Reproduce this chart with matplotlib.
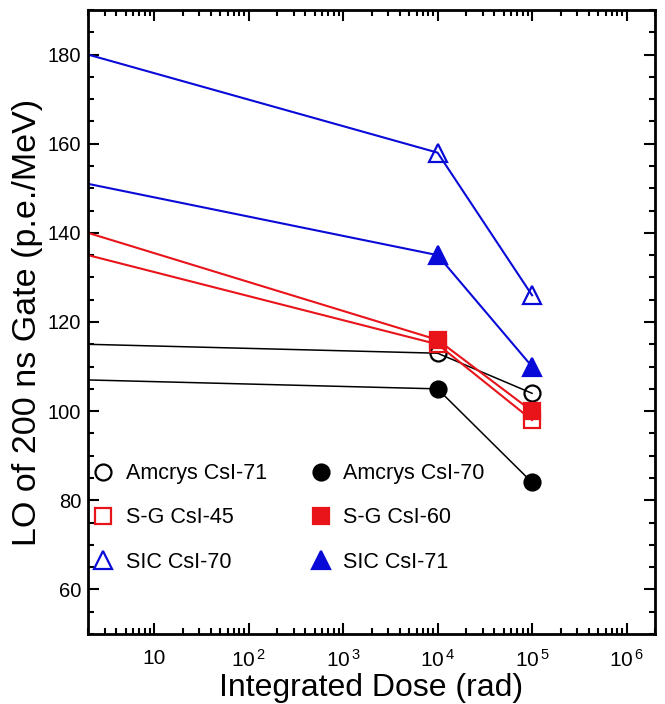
import math
import matplotlib
matplotlib.use('Agg')
import matplotlib.pyplot as plt
from matplotlib.lines import Line2D
from matplotlib.ticker import FixedLocator, LogLocator, MultipleLocator, FuncFormatter, NullFormatter

plt.rcParams['font.family'] = ['Liberation Sans', 'DejaVu Sans']
plt.rcParams['mathtext.fontset'] = 'custom'
plt.rcParams['mathtext.rm'] = 'Liberation Sans'
plt.rcParams['mathtext.it'] = 'Liberation Sans'

# dose points (first point = before irradiation, drawn from the left edge)
dose = [2, 1e4, 1e5]

amcrys_71 = [115, 113, 104]
amcrys_70 = [107, 105, 84]
sg_45 = [135, 115, 98]
sg_60 = [140, 116, 100]
sic_70 = [180, 158, 126]
sic_71 = [151, 135, 110]

labels = ['Amcrys CsI-71', 'Amcrys CsI-70', 'S-G CsI-45', 'S-G CsI-60',
          'SIC CsI-70', 'SIC CsI-71']

black = 'black'
red = '#e8141a'
blue = '#0a0ad8'

series = [
    (amcrys_71, black, 'o', 'none', 1.1, 11.5),
    (amcrys_70, black, 'o', black, 1.1, 11.5),
    (sg_45, red, 's', 'none', 1.5, 11.5),
    (sg_60, red, 's', red, 1.5, 11.5),
    (sic_70, blue, '^', 'none', 1.5, 13),
    (sic_71, blue, '^', blue, 1.5, 13),
]

fig = plt.figure(figsize=(6.65, 7.04), dpi=100)
ax = fig.add_axes([88 / 665, 1 - 634 / 704, (655 - 88) / 665, (634 - 10) / 704])

handles = []
for (vals, color, marker, face, lw, ms), lab in zip(series, labels):
    ax.plot(dose, vals, color=color, lw=lw, marker=marker, ms=ms,
            mfc=face, mec=color, mew=1.6, markevery=[1, 2])
    handles.append(Line2D([], [], ls='none', marker=marker, ms=ms,
                          mfc=face, mec=color, mew=1.6, color=color))

ax.set_xscale('log')
ax.set_xlim(2, 2e6)
ax.set_ylim(50, 190)

ax.xaxis.set_major_locator(FixedLocator([10, 1e2, 1e3, 1e4, 1e5, 1e6]))
ax.xaxis.set_minor_locator(LogLocator(base=10, subs=range(2, 10), numticks=20))
ax.xaxis.set_minor_formatter(NullFormatter())


def fmt(x, pos):
    n = int(round(math.log10(x)))
    if n == 1:
        return '10'
    return r'$10^{\,%d}$' % n


ax.xaxis.set_major_formatter(FuncFormatter(fmt))
ax.yaxis.set_major_locator(FixedLocator([60, 80, 100, 120, 140, 160, 180]))
ax.yaxis.set_minor_locator(MultipleLocator(5))

ax.tick_params(which='both', direction='in', top=True, right=True, width=1.5)
ax.tick_params(which='major', length=8)
ax.tick_params(which='minor', length=4.5)
ax.tick_params(axis='x', which='major', pad=11, labelsize=15)
ax.tick_params(axis='y', which='major', pad=5, labelsize=14.5)
for sp in ax.spines.values():
    sp.set_linewidth(2)

ax.set_xlabel('Integrated Dose (rad)', fontsize=23, labelpad=1)
ax.set_ylabel('LO of 200 ns Gate (p.e./MeV)', fontsize=24.5, labelpad=3)

# legend rows are filled column-wise by matplotlib
order = [0, 2, 4, 1, 3, 5]
ax.legend([handles[i] for i in order], [labels[i] for i in order],
          ncol=2, frameon=False, fontsize=15.5, loc='upper left',
          bbox_to_anchor=(-0.019, 0.298), handlelength=1.0, handletextpad=0.55,
          columnspacing=2.0, labelspacing=1.08, borderaxespad=0.3)

fig.savefig('out.png', dpi=100)
